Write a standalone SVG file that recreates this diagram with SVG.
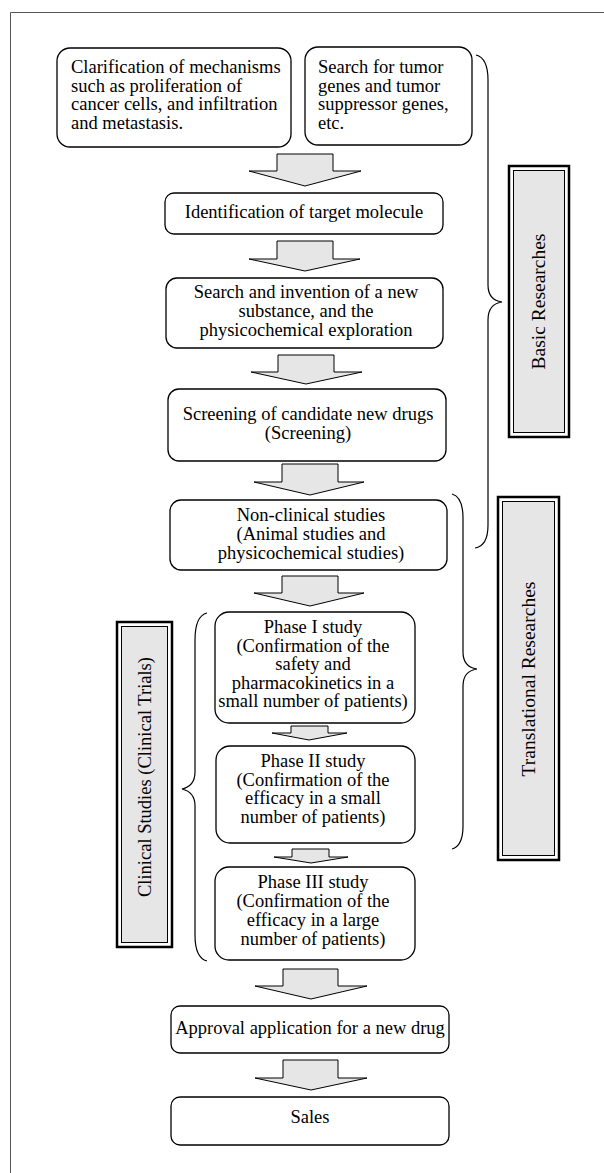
<svg xmlns="http://www.w3.org/2000/svg" width="604" height="1173" viewBox="0 0 604 1173">
<style>
.box{fill:#fff;stroke:#000;stroke-width:1.3}
.arr{fill:#e6e6e6;stroke:#000;stroke-width:1}
.br{fill:none;stroke:#000;stroke-width:1.2}
.t{font-family:"Liberation Serif","Times New Roman",serif;font-size:18.5px;fill:#000}
.c{text-anchor:middle}
.lo{fill:none;stroke:#000;stroke-width:2.5}
.li{fill:#e6e6e6;stroke:#000;stroke-width:1}
</style>
<rect width="604" height="1173" fill="#fff"/>
<path d="M10.5 1173 V12.5 H604" fill="none" stroke="#555" stroke-width="1"/>

<g id="n1">
<rect class="box" x="57" y="48" width="234" height="99" rx="13"/>
<text class="t" x="71" y="73">Clarification of mechanisms</text>
<text class="t" x="71" y="91.5">such as proliferation of</text>
<text class="t" x="71" y="110">cancer cells, and infiltration</text>
<text class="t" x="71" y="128.5">and metastasis.</text>
</g>
<g id="n2">
<rect class="box" x="305" y="47" width="167" height="98" rx="13"/>
<text class="t" x="318" y="73">Search for tumor</text>
<text class="t" x="318" y="91.5">genes and tumor</text>
<text class="t" x="318" y="110">suppressor genes,</text>
<text class="t" x="318" y="128.5">etc.</text>
</g>
<g id="n3">
<rect class="box" x="165" y="193" width="278" height="41" rx="9"/>
<text class="t c" x="304" y="218">Identification of target molecule</text>
</g>
<g id="n4">
<rect class="box" x="166" y="278" width="277" height="70" rx="11"/>
<text class="t c" x="306" y="298">Search and invention of a new</text>
<text class="t c" x="306" y="317">substance, and the</text>
<text class="t c" x="306" y="336">physicochemical exploration</text>
</g>
<g id="n5">
<rect class="box" x="168" y="389" width="278" height="72" rx="11"/>
<text class="t c" x="308" y="420">Screening of candidate new drugs</text>
<text class="t c" x="308" y="439">(Screening)</text>
</g>
<g id="n6">
<rect class="box" x="170" y="500" width="277" height="70" rx="11"/>
<text class="t c" x="311" y="521">Non-clinical studies</text>
<text class="t c" x="311" y="540">(Animal studies and</text>
<text class="t c" x="311" y="559">physicochemical studies)</text>
</g>
<g id="n7">
<rect class="box" x="215" y="612" width="200" height="111" rx="14"/>
<text class="t c" x="313" y="633">Phase I study</text>
<text class="t c" x="313" y="651.5">(Confirmation of the</text>
<text class="t c" x="313" y="670">safety and</text>
<text class="t c" x="313" y="688.5">pharmacokinetics in a</text>
<text class="t c" x="313" y="707">small number of patients)</text>
</g>
<g id="n8">
<rect class="box" x="216" y="746" width="199" height="97" rx="14"/>
<text class="t c" x="313" y="767">Phase II study</text>
<text class="t c" x="313" y="785.5">(Confirmation of the</text>
<text class="t c" x="313" y="804">efficacy in a small</text>
<text class="t c" x="313" y="822.5">number of patients)</text>
</g>
<g id="n9">
<rect class="box" x="215" y="867" width="200" height="93" rx="14"/>
<text class="t c" x="313" y="888">Phase III study</text>
<text class="t c" x="313" y="907">(Confirmation of the</text>
<text class="t c" x="313" y="926">efficacy in a large</text>
<text class="t c" x="313" y="945">number of patients)</text>
</g>
<g id="n10">
<rect class="box" x="171" y="1006" width="278" height="47" rx="9"/>
<text class="t c" x="310" y="1034">Approval application for a new drug</text>
</g>
<g id="n11">
<rect class="box" x="171" y="1097" width="278" height="48" rx="9"/>
<text class="t c" x="310" y="1123">Sales</text>
</g>

<g id="lbl-basic">
<rect class="lo" x="509" y="166" width="60" height="271"/>
<rect class="li" x="513.5" y="170.5" width="51" height="262"/>
<text class="t c" style="font-size:19.5px" transform="translate(545 301.5) rotate(-90)">Basic Researches</text>
</g>
<g id="lbl-trans">
<rect class="lo" x="498" y="497" width="61" height="363"/>
<rect class="li" x="502.5" y="501.5" width="52" height="354"/>
<text class="t c" style="font-size:19.5px" transform="translate(535 679) rotate(-90)">Translational Researches</text>
</g>
<g id="lbl-clin">
<rect class="lo" x="117" y="622" width="55" height="325"/>
<rect class="li" x="121.5" y="626.5" width="46" height="316"/>
<text class="t c" transform="translate(151 777) rotate(-90)">Clinical Studies (Clinical Trials)</text>
</g>

<g id="connectors">
<polygon class="arr" points="277,154 333,154 333,171 361,171 305,186 249,171 277,171"/>
<polygon class="arr" points="277,241 333,241 333,259 360,259 305,271 249,259 277,259"/>
<polygon class="arr" points="278,355 334,355 334,372 362,372 306,384 251,372 278,372"/>
<polygon class="arr" points="282,464 338,464 338,482 364,482 310,495 254,482 282,482"/>
<polygon class="arr" points="282,576 338,576 338,593 364,593 310,606 254,593 282,593"/>
<polygon class="arr" points="291,726 328,726 328,733 347,733 309,740 272,733 291,733"/>
<polygon class="arr" points="292,849 329,849 329,857 348,857 311,863 274,857 292,857"/>
<polygon class="arr" points="283,969 338,969 338,986 367,986 311,999 255,986 283,986"/>
<polygon class="arr" points="283,1060 338,1060 338,1078 367,1078 311,1090 255,1078 283,1078"/>
<path class="br" d="M476 55 Q488 58 488 80 V285 Q488 300 502 302 Q488 304 488 320 V525 Q488 546 475 548"/>
<path class="br" d="M452 494 Q463 497 463 518 V652 Q463 667 477 669 Q463 671 463 686 V826 Q463 846 452 849"/>
<path class="br" d="M207 613 Q195 616 195 640 V772 Q195 786 182 789 Q195 792 195 806 V935 Q195 958 207 961"/>
</g>
</svg>
